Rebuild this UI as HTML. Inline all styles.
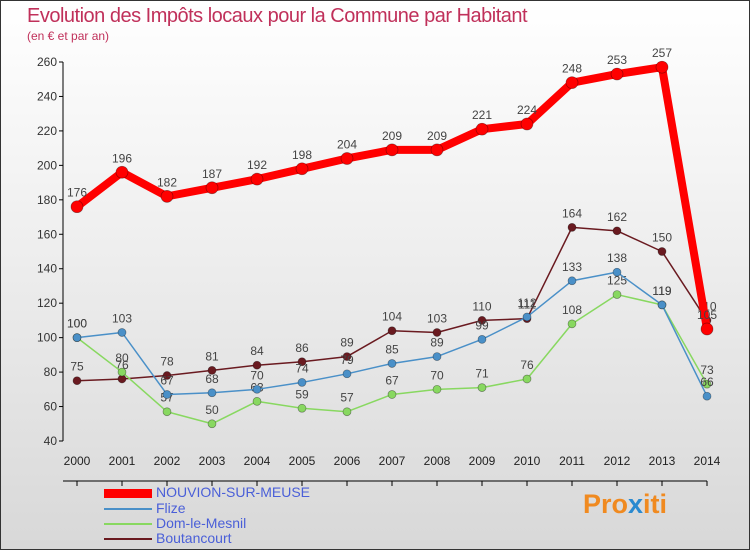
<!DOCTYPE html>
<html><head><meta charset="utf-8"><style>
body{margin:0}
#c{position:relative;width:748px;height:548px;border:1px solid #333;background:linear-gradient(#fff,#f4f4f4 30%,#d8d8d8);font-family:"Liberation Sans",sans-serif;overflow:hidden}
.t{position:absolute;left:26px;top:4px;font-size:20px;color:#c0305a;letter-spacing:-0.5px}
.s{position:absolute;left:26px;top:28px;font-size:12px;color:#c0305a}
.lg{position:absolute;left:103px;font-size:14px;color:#4a5fd8}
.lg i{position:absolute;left:0;width:48px}
.lg span{position:absolute;left:52px;top:-9px;white-space:nowrap}
</style></head><body>
<div id="c">
<div class="t">Evolution des Impôts locaux pour la Commune par Habitant</div>
<div class="s">(en € et par an)</div>
<svg id="g" width="748" height="548" style="position:absolute;left:0;top:0"></svg>
<div class="lg" style="top:492px"><i style="height:9px;background:#f00;top:-4px"></i><span>NOUVION-SUR-MEUSE</span></div>
<div class="lg" style="top:508px"><i style="height:2px;background:#4a90c8;top:-1px"></i><span>Flize</span></div>
<div class="lg" style="top:523px"><i style="height:2px;background:#88d860;top:-1px"></i><span>Dom-le-Mesnil</span></div>
<div class="lg" style="top:538px"><i style="height:2px;background:#6a1a20;top:-1px"></i><span>Boutancourt</span></div>
<div style="position:absolute;left:582px;top:488px;font-size:27px;font-weight:bold;font-family:'Liberation Sans',sans-serif"><span style="color:#f08a20">Pro</span><span style="color:#2a8ad0">x</span><span style="color:#f08a20">iti</span></div>
</div>
<script>
const years=[2000,2001,2002,2003,2004,2005,2006,2007,2008,2009,2010,2011,2012,2013,2014];
const nouvion=[176,196,182,187,192,198,204,209,209,221,224,248,253,257,105];
const flize=[100,103,67,68,70,74,79,85,89,99,112,133,138,119,66];
const dom=[100,80,57,50,63,59,57,67,70,71,76,108,125,119,73];
const bout=[75,76,78,81,84,86,89,104,103,110,111,164,162,150,110];
const yTicks=[40,60,80,100,120,140,160,180,200,220,240,260];
const NS="http://www.w3.org/2000/svg",g=document.getElementById('g');
const X=i=>76+i*45,Y=v=>440-(v-40)*(379/220);
function el(t,a,p){const e=document.createElementNS(NS,t);for(const k in a)e.setAttribute(k,a[k]);(p||g).appendChild(e);return e}
el('line',{x1:62,y1:Y(260),x2:62,y2:Y(40),stroke:'#000'});
el('line',{x1:62,y1:Y(40)+40,x2:706,y2:Y(40)+40,stroke:'#000'});
yTicks.forEach(v=>{el('line',{x1:58,y1:Y(v),x2:62,y2:Y(v),stroke:'#000'});
const t=el('text',{x:56,y:Y(v)+4,'text-anchor':'end','font-size':12,fill:'#333'});t.textContent=v;
});
years.forEach((y,i)=>{el('line',{x1:X(i),y1:480,x2:X(i),y2:485,stroke:'#000'});
const t=el('text',{x:X(i),y:464,'text-anchor':'middle','font-size':12,fill:'#222'});t.textContent=y;
});
function series(d,c,w,r,name){
el('polyline',{points:d.map((v,i)=>X(i)+','+Y(v)).join(' '),fill:'none',stroke:c,'stroke-width':w,'stroke-linejoin':'round',});
d.forEach((v,i)=>{const p=el('circle',{cx:X(i),cy:Y(v),r:r,fill:c,stroke:'rgba(0,0,0,.4)','stroke-width':0.7});

const t=el('text',{x:X(i),y:Y(v)-10,'text-anchor':'middle','font-size':12,fill:'#444'});t.textContent=v;
});}
series(bout,'#6a1a20',1.5,4,'boutancourt');
series(dom,'#88d860',1.5,4,'dom-le-mesnil');
series(flize,'#4a90c8',1.5,4,'flize');
series(nouvion,'#f00',8,6,'nouvion');
</script>
</body></html>
